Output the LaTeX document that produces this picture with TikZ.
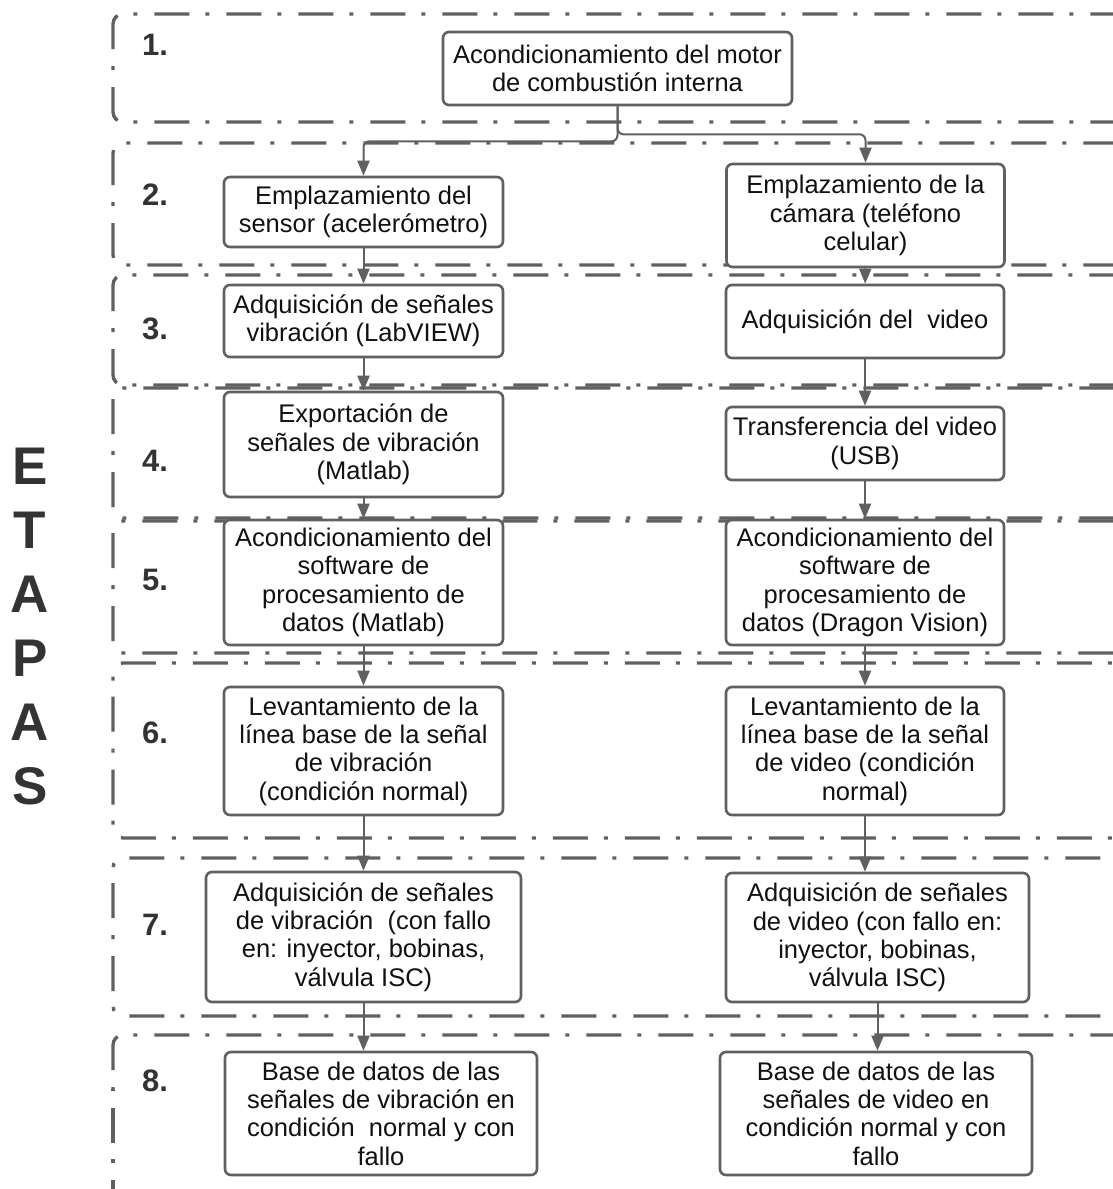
\documentclass[tikz,border=0pt]{standalone}
\usepackage{fontspec}
\setmainfont{Liberation Sans}
\usetikzlibrary{arrows.meta}
\definecolor{linec}{HTML}{606060}
\definecolor{txt}{HTML}{111111}
\definecolor{lab}{HTML}{333333}
\tikzset{
  bandline/.style={draw=linec, line width=3.3pt, rounded corners=10pt,
    dash pattern=on 4pt off 17pt on 35pt off 16pt, dash phase=2pt},
  stagebox/.style={draw=linec, line width=2.6pt, rounded corners=6pt, fill=white,
    align=center, inner sep=0pt, text=txt,
    font=\fontsize{25.5}{28.3}\selectfont},
  conn/.style={draw=linec, line width=2pt, -{Triangle[length=15pt,width=12pt]}},
  stagenum/.style={anchor=west, text=lab, inner sep=0pt,
    font=\fontsize{31}{31}\selectfont\bfseries}
}
% a stage band: top edge, bottom edge; drawn in two halves from the middle of the left side
\newcommand{\stageband}[2]{%
  \draw[bandline] (113,{(#1+#2)/2}) -- (113,#1) -- (1140,#1);
  \draw[bandline] (113,{(#1+#2)/2}) -- (113,#2) -- (1140,#2);
}
\begin{document}
\begin{tikzpicture}[x=1pt,y=-1pt]
\useasboundingbox (0,0) rectangle (1113,1189);
\clip (0,0) rectangle (1113,1189);
\fill[white] (0,0) rectangle (1113,1189);

% stage bands
\stageband{14}{122}
\stageband{143}{265}
\stageband{275}{385}
\stageband{388}{518}
\stageband{521}{653}
\stageband{663}{838}
\stageband{858}{1016}
\draw[bandline] (113,1089) -- (113,1035) -- (1140,1035);
\draw[bandline] (113,1089) -- (113,1220);

% stage numbers
\node[stagenum] (n1) at (142,45) {1.};
\node[stagenum] (n2) at (142,195) {2.};
\node[stagenum] (n3) at (142,329) {3.};
\node[stagenum] (n4) at (142,461) {4.};
\node[stagenum] (n5) at (142,580) {5.};
\node[stagenum] (n6) at (142,733) {6.};
\node[stagenum] (n7) at (142,925) {7.};
\node[stagenum] (n8) at (142,1081) {8.};

% vertical title
\node[align=center, text=lab, inner sep=0pt,
      font=\fontsize{53}{64}\selectfont\bfseries] (etapas) at (30,627)
  {E\\T\\A\\P\\A\\S};

% process boxes
\node[stagebox, minimum width=349pt, minimum height=73pt] (B1) at (617.5,68.5)
  {Acondicionamiento del motor\\de combustión interna};

\node[stagebox, minimum width=279pt, minimum height=70pt] (L2) at (363.5,212)
  {Emplazamiento del\\sensor (acelerómetro)};
\node[stagebox, minimum width=278pt, minimum height=103pt] (R2) at (865.5,215.5)
  {Emplazamiento de la\\cámara (teléfono\\celular)};

\node[stagebox, minimum width=279pt, minimum height=72pt] (L3) at (363.5,321)
  {Adquisición de señales\\vibración (LabVIEW)};
\node[stagebox, minimum width=278pt, minimum height=73pt] (R3) at (865,321.5)
  {Adquisición del\ \ video};

\node[stagebox, minimum width=279pt, minimum height=105pt] (L4) at (363.5,444.5)
  {Exportación de\\señales de vibración\\(Matlab)};
\node[stagebox, minimum width=278pt, minimum height=73pt] (R4) at (865,443.5)
  {Transferencia del video\\(USB)};

\node[stagebox, minimum width=279pt, minimum height=125pt] (L5) at (363.5,582.5)
  {Acondicionamiento del\\software de\\procesamiento de\\datos (Matlab)};
\node[stagebox, minimum width=278pt, minimum height=125pt] (R5) at (865,582.5)
  {Acondicionamiento del\\software de\\procesamiento de\\datos (Dragon Vision)};

\node[stagebox, minimum width=279pt, minimum height=128pt] (L6) at (363.5,751)
  {Levantamiento de la\\línea base de la señal\\de vibración\\(condición normal)};
\node[stagebox, minimum width=278pt, minimum height=128pt] (R6) at (865,751)
  {Levantamiento de la\\línea base de la señal\\de video (condición\\normal)};

\node[stagebox, minimum width=315pt, minimum height=130pt] (L7) at (363.5,937)
  {Adquisición de señales\\de vibración\ \ (con fallo\\en: inyector, bobinas,\\válvula ISC)};
\node[stagebox, minimum width=303pt, minimum height=129pt] (R7) at (877.5,937.5)
  {Adquisición de señales\\de video (con fallo en:\\inyector, bobinas,\\válvula ISC)};

\node[stagebox, minimum width=312pt, minimum height=123pt] (L8) at (381,1113.5)
  {Base de datos de las\\señales de vibración en\\condición\ \ normal y con\\fallo};
\node[stagebox, minimum width=312pt, minimum height=123pt] (R8) at (876,1113.5)
  {Base de datos de las\\señales de video en\\condición normal y con\\fallo};

% connectors
\draw[conn, rounded corners=6pt] (B1.south) -- ++(0,35) -| (L2.north);
\draw[conn, rounded corners=6pt] (B1.south) -- ++(0,28) -| (R2.north);

\draw[conn] (L2) -- (L3);
\draw[conn] (L3) -- (L4);
\draw[conn] (L4) -- (L5);
\draw[conn] (L5) -- (L6);
\draw[conn] (L6) -- (L7);
\draw[conn] (L7.south) -- (L7.south |- L8.north);

\draw[conn] (R2) -- (R3);
\draw[conn] (R3) -- (R4);
\draw[conn] (R4) -- (R5);
\draw[conn] (R5) -- (R6);
\draw[conn] (R6.south) -- (R6.south |- R7.north);
\draw[conn] (R7.south) -- (R7.south |- R8.north);
\end{tikzpicture}
\end{document}
